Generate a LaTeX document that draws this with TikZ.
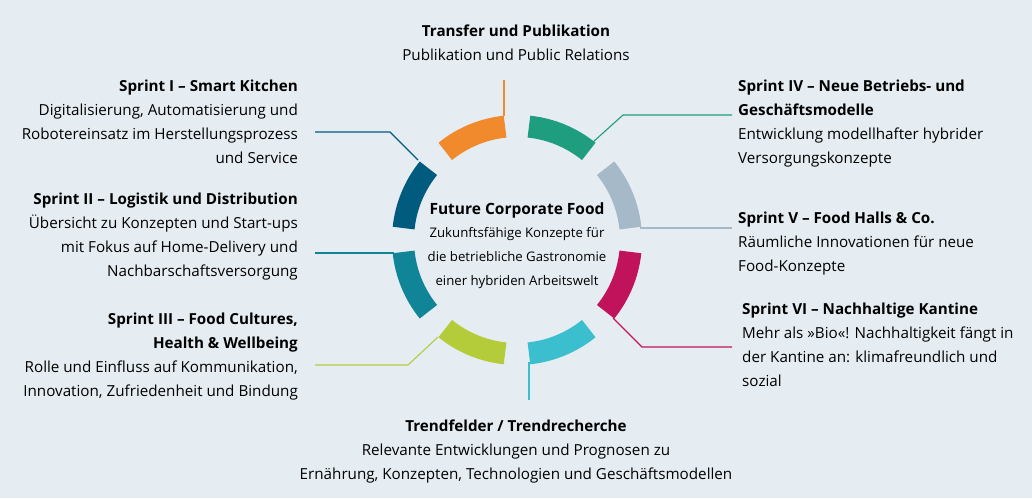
\documentclass[tikz,border=0pt]{standalone}
\usepackage{fontspec}
\setmainfont{Open Sans}
\usetikzlibrary{calc}
\definecolor{bg}{HTML}{E6EDF2}
\definecolor{cOr}{HTML}{F08A2C}
\definecolor{cGr}{HTML}{1E9E7E}
\definecolor{cGy}{HTML}{A5B9C8}
\definecolor{cMa}{HTML}{C0135C}
\definecolor{cCy}{HTML}{3BBFCF}
\definecolor{cLi}{HTML}{B4CC3A}
\definecolor{cTe}{HTML}{0F8597}
\definecolor{cDb}{HTML}{005B7F}
\tikzset{
  txt/.style={inner sep=0pt, font=\fontsize{15.2}{24}\selectfont, text=black},
  lbl/.style={txt, anchor=north east, align=right},
  rbl/.style={txt, anchor=north west, align=left},
  cbl/.style={txt, anchor=north, align=center},
  seg/.style={line width=22pt},
  con/.style={line width=1.1pt},
}
\begin{document}
\begin{tikzpicture}[x=1pt,y=-1pt]
\fill[bg] (0,0) rectangle (1032,498);
\useasboundingbox (0,0) rectangle (1032,498);
\coordinate (c) at (517,240);
\foreach \a/\col in {96/cOr,51/cGr,6/cGy,-39/cMa,-84/cCy,-129/cLi,-174/cTe,141/cDb}{
  \draw[seg,\col] ($(c)+(-\a:114)$) arc[start angle=-\a, end angle=-\a-33, radius=114];
}
\coordinate (o1) at (504,116); \coordinate (o2) at (504,80);
\draw[con,cOr] (o1) -- (o2);
\coordinate (g1) at (593,142); \coordinate (g2) at (623,115); \coordinate (g3) at (732,115);
\draw[con,cGr] (g1) -- (g2) -- (g3);
\coordinate (y1) at (640,228); \coordinate (y2) at (732,228);
\draw[con,cGy] (y1) -- (y2);
\coordinate (m1) at (613,318); \coordinate (m2) at (642,347); \coordinate (m3) at (732,347);
\draw[con,cMa] (m1) -- (m2) -- (m3);
\coordinate (k1) at (529,362); \coordinate (k2) at (529,400);
\draw[con,cCy] (k1) -- (k2);
\coordinate (l1) at (438,337); \coordinate (l2) at (408,365); \coordinate (l3) at (315,365);
\draw[con,cLi] (l1) -- (l2) -- (l3);
\coordinate (t1) at (394,253); \coordinate (t2) at (315,253);
\draw[con,cTe] (t1) -- (t2);
\coordinate (d1) at (418,160); \coordinate (d2) at (390,132); \coordinate (d3) at (315,132);
\draw[con,cDb] (d1) -- (d2) -- (d3);
\node[cbl] (top) at (516,25) {\textbf{Transfer und Publikation}\\Publikation und Public Relations};
\node[lbl] (s1) at (298,80) {\textbf{Sprint I – Smart Kitchen}\\Digitalisierung, Automatisierung und\\Robotereinsatz im Herstellungsprozess\\und Service};
\node[lbl] (s2) at (298,193) {\textbf{Sprint II – Logistik und Distribution}\\Übersicht zu Konzepten und Start-ups\\mit Fokus auf Home-Delivery und\\Nachbarschaftsversorgung};
\node[lbl] (s3) at (298,313) {\textbf{Sprint III – Food Cultures,}\\\textbf{Health \& Wellbeing}\\Rolle und Einfluss auf Kommunikation,\\Innovation, Zufriedenheit und Bindung};
\node[rbl] (s4) at (738,80) {\textbf{Sprint IV – Neue Betriebs- und}\\\textbf{Geschäftsmodelle}\\Entwicklung modellhafter hybrider\\Versorgungskonzepte};
\node[rbl] (s5) at (738,212) {\textbf{Sprint V – Food Halls \& Co.}\\Räumliche Innovationen für neue\\Food-Konzepte};
\node[rbl] (s6) at (742,303) {\textbf{Sprint VI – Nachhaltige Kantine}\\Mehr als »Bio«! Nachhaltigkeit fängt in\\der Kantine an: klimafreundlich und\\sozial};
\node[cbl] (bot) at (516,420) {\textbf{Trendfelder / Trendrecherche}\\Relevante Entwicklungen und Prognosen zu\\Ernährung, Konzepten, Technologien und Geschäftsmodellen};
\node[txt, anchor=north, align=center] (ctr) at (517,203) {{\fontsize{15.5}{24}\selectfont\textbf{Future Corporate Food}}\\[-1pt]{\fontsize{13.2}{23}\selectfont Zukunftsfähige Konzepte für}\\{\fontsize{13.2}{23}\selectfont die betriebliche Gastronomie}\\{\fontsize{13.2}{23}\selectfont einer hybriden Arbeitswelt}};
\end{tikzpicture}
\end{document}
